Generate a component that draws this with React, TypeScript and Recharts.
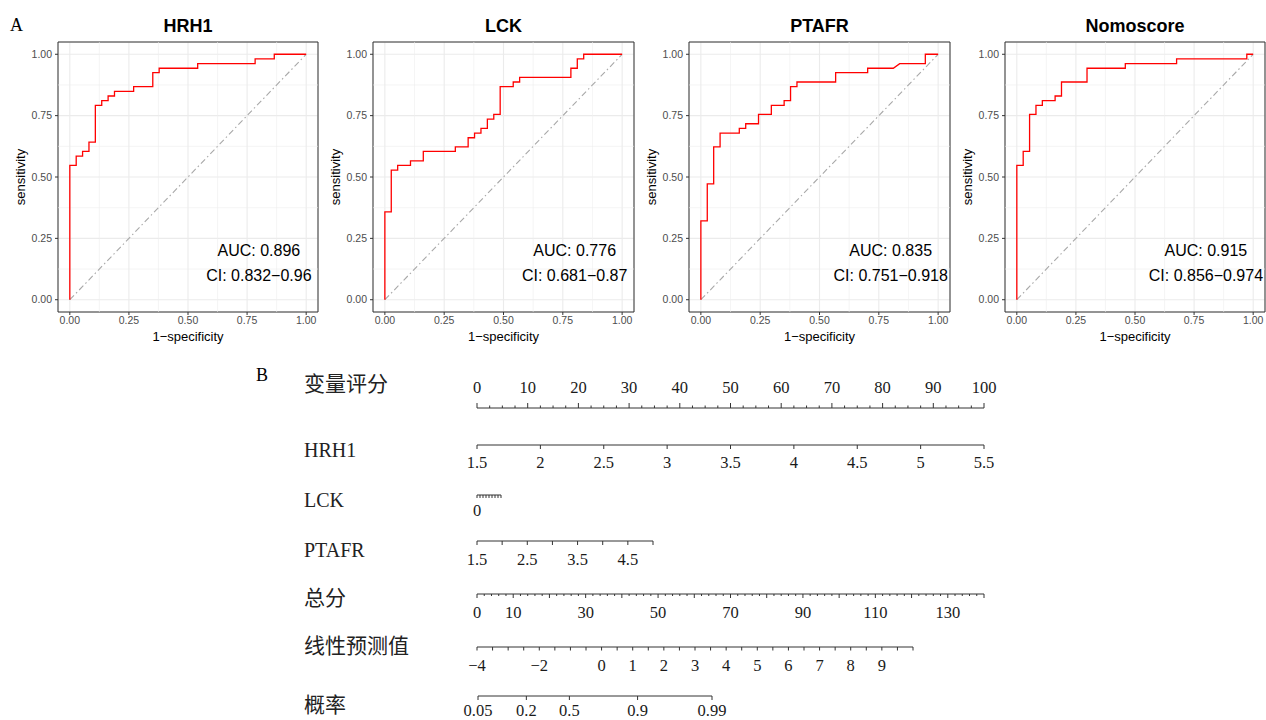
import React from 'react';
import { CartesianGrid, Line, LineChart, ReferenceArea, ReferenceDot, ReferenceLine, XAxis, YAxis } from 'recharts';

const sans = '"Liberation Sans", Arial, sans-serif';
const serif = '"Liberation Serif", "Times New Roman", serif';
const cjk = '"Liberation Serif", "Noto Sans CJK SC", serif';

// ROC curves (1-specificity, sensitivity)
const hrh1Fpr = [0, 0, 0.027, 0.027, 0.054, 0.054, 0.081, 0.081, 0.108, 0.108, 0.135, 0.135, 0.162, 0.162, 0.189, 0.189, 0.27, 0.27, 0.351, 0.351, 0.378, 0.378, 0.541, 0.541, 0.784, 0.784, 0.865, 0.865, 1];
const hrh1Tpr = [0, 0.547, 0.547, 0.585, 0.585, 0.604, 0.604, 0.642, 0.642, 0.792, 0.792, 0.811, 0.811, 0.83, 0.83, 0.849, 0.849, 0.868, 0.868, 0.925, 0.925, 0.943, 0.943, 0.962, 0.962, 0.981, 0.981, 1, 1];

const lckFpr = [0, 0, 0.027, 0.027, 0.054, 0.054, 0.108, 0.108, 0.162, 0.162, 0.297, 0.297, 0.351, 0.351, 0.378, 0.378, 0.405, 0.405, 0.432, 0.432, 0.459, 0.459, 0.486, 0.486, 0.541, 0.541, 0.568, 0.568, 0.784, 0.784, 0.811, 0.811, 0.838, 0.838, 1];
const lckTpr = [0, 0.358, 0.358, 0.528, 0.528, 0.547, 0.547, 0.566, 0.566, 0.604, 0.604, 0.623, 0.623, 0.66, 0.66, 0.679, 0.679, 0.698, 0.698, 0.736, 0.736, 0.755, 0.755, 0.868, 0.868, 0.887, 0.887, 0.906, 0.906, 0.943, 0.943, 0.981, 0.981, 1, 1];

const ptafrFpr = [0, 0, 0.027, 0.027, 0.054, 0.054, 0.081, 0.081, 0.162, 0.162, 0.189, 0.189, 0.243, 0.243, 0.297, 0.297, 0.351, 0.351, 0.378, 0.378, 0.405, 0.405, 0.568, 0.568, 0.703, 0.703, 0.811, 0.838, 0.946, 0.946, 1];
const ptafrTpr = [0, 0.321, 0.321, 0.472, 0.472, 0.623, 0.623, 0.679, 0.679, 0.698, 0.698, 0.717, 0.717, 0.755, 0.755, 0.792, 0.792, 0.811, 0.811, 0.868, 0.868, 0.887, 0.887, 0.925, 0.925, 0.943, 0.943, 0.962, 0.962, 1, 1];

const nomoFpr = [0, 0, 0.027, 0.027, 0.054, 0.054, 0.081, 0.081, 0.108, 0.108, 0.162, 0.162, 0.189, 0.189, 0.297, 0.297, 0.459, 0.459, 0.676, 0.676, 0.973, 0.973, 1];
const nomoTpr = [0, 0.547, 0.547, 0.604, 0.604, 0.755, 0.755, 0.792, 0.792, 0.811, 0.811, 0.83, 0.83, 0.887, 0.887, 0.943, 0.943, 0.962, 0.962, 0.981, 0.981, 1, 1];

const rocTitles = ['HRH1', 'LCK', 'PTAFR', 'Nomoscore'];
const rocAuc = ['AUC: 0.896', 'AUC: 0.776', 'AUC: 0.835', 'AUC: 0.915'];
const rocCi = ['CI: 0.832\u22120.96', 'CI: 0.681\u22120.87', 'CI: 0.751\u22120.918', 'CI: 0.856\u22120.974'];
const rocTicks = [0, 0.25, 0.5, 0.75, 1];
const rocMinor = [0.125, 0.375, 0.625, 0.875];

// nomogram scales
const pointLabels = [0, 10, 20, 30, 40, 50, 60, 70, 80, 90, 100];
const hrh1Labels = [1.5, 2, 2.5, 3, 3.5, 4, 4.5, 5, 5.5];
const lckTicks = [0, 1, 2, 3, 4, 5, 6, 7, 8];
const lckLabels = [0];
const ptafrLabels = [1.5, 2.5, 3.5, 4.5];
const totalLabels = [0, 10, 30, 50, 70, 90, 110, 130];
const lpLabels = [-4, -2, 0, 1, 2, 3, 4, 5, 6, 7, 8, 9];
const probLabels = [0.05, 0.2, 0.5, 0.9, 0.99];

function steps(from: number, to: number, step: number) {
  const out: number[] = [];
  for (let i = 0; from + i * step <= to + 1e-9; i++) out.push(+(from + i * step).toFixed(4));
  return out;
}

const logit = (p: number) => Math.log(p / (1 - p));
const fmt = (v: number) => String(v).replace('-', '\u2212');
const pick = (labels: number[], tr: (v: number) => number = (v) => v) => (v: number) => {
  const hit = labels.find((l) => Math.abs(tr(l) - v) < 1e-6);
  return hit === undefined ? null : fmt(hit);
};

interface RocProps {
  plotLeft: number;
  plotW: number;
  title: string;
  fpr: number[];
  tpr: number[];
  auc: string;
  ci: string;
}

function RocPanel({ plotLeft, plotW, title, fpr, tpr, auc, ci }: RocProps) {
  const data = fpr.map((f, i) => ({ fpr: f, tpr: tpr[i] }));
  const yw = 58;
  const tick = { fontSize: 10.5, fill: '#4D4D4D', fontFamily: sans };
  return (
    <>
      <div
        style={{
          position: 'absolute', left: plotLeft, top: 16, width: plotW, textAlign: 'center',
          fontFamily: sans, fontWeight: 'bold', fontSize: 18, lineHeight: '20px', color: '#000',
        }}
      >
        {title}
      </div>
      <div style={{ position: 'absolute', left: plotLeft - yw, top: 0 }}>
        <LineChart width={yw + plotW + 4} height={352} data={data} margin={{ top: 42, right: 4, bottom: 0, left: 0 }}>
          <CartesianGrid stroke="#EBEBEB" strokeWidth={1.1} />
          {rocMinor.map((m) => (
            <ReferenceLine key={'x' + m} x={m} stroke="#EFEFEF" strokeWidth={0.6} />
          ))}
          {rocMinor.map((m) => (
            <ReferenceLine key={'y' + m} y={m} stroke="#EFEFEF" strokeWidth={0.6} />
          ))}
          <XAxis
            type="number"
            dataKey="fpr"
            domain={[-0.05, 1.05]}
            ticks={rocTicks}
            interval={0}
            tickFormatter={(v) => v.toFixed(2)}
            axisLine={false}
            tickLine={{ stroke: '#333' }}
            tickSize={3}
            tickMargin={2}
            tick={tick}
            height={40}
            allowDataOverflow
            label={{ value: '1\u2212specificity', position: 'insideBottom', offset: 11, fontSize: 13, fill: '#000', fontFamily: sans }}
          />
          <YAxis
            type="number"
            domain={[-0.05, 1.05]}
            ticks={rocTicks}
            interval={0}
            tickFormatter={(v) => v.toFixed(2)}
            axisLine={false}
            tickLine={{ stroke: '#333' }}
            tickSize={3}
            tickMargin={3}
            tick={tick}
            width={yw}
            allowDataOverflow
            label={{
              value: 'sensitivity', angle: -90, position: 'insideLeft', offset: 20,
              fontSize: 13, fill: '#000', fontFamily: sans, style: { textAnchor: 'middle' },
            }}
          />
          <ReferenceLine segment={[{ x: 0, y: 0 }, { x: 1, y: 1 }]} stroke="#A8A8A8" strokeWidth={1.1} strokeDasharray="6 3 1.5 3" />
          <Line type="linear" dataKey="tpr" stroke="#FF0000" strokeWidth={1.3} dot={false} isAnimationActive={false} />
          <ReferenceDot x={0.8} y={0.2} r={1} fill="none" stroke="none"
            label={{ value: auc, position: 'center', fontSize: 16, fill: '#000', fontFamily: sans }} />
          <ReferenceDot x={0.8} y={0.1} r={1} fill="none" stroke="none"
            label={{ value: ci, position: 'center', fontSize: 16, fill: '#000', fontFamily: sans }} />
          <ReferenceArea x1={-0.05} x2={1.05} y1={-0.05} y2={1.05} fill="none" fillOpacity={0} stroke="#333" strokeWidth={1} />
        </LineChart>
      </div>
    </>
  );
}

interface NomoProps {
  y: number;
  x0: number;
  width: number;
  domain: [number, number];
  ticks: number[];
  majors: number[];
  labelAt: (v: number) => string | null;
  up?: boolean;
  majorLen: number;
  minorLen?: number;
  gap: number;
}

function NomoAxis(p: NomoProps) {
  const pad = 30;
  const axisH = 36;
  const top = p.up ? p.y - axisH : p.y - 4;
  const dir = p.up ? -1 : 1;
  const renderTick = (t: any) => {
    const v = t.payload.value;
    const major = p.majors.some((m) => Math.abs(m - v) < 1e-6);
    const len = major ? p.majorLen : p.minorLen ?? p.majorLen;
    const label = p.labelAt(v);
    return (
      <g>
        <line x1={t.x} x2={t.x} y1={t.y} y2={t.y + dir * len} stroke="#333" strokeWidth={1} />
        {label !== null && (
          <text x={t.x} y={t.y + dir * p.gap} textAnchor="middle" dominantBaseline="central"
            fontFamily={serif} fontSize={16.5} fill="#1a1a1a">
            {label}
          </text>
        )}
      </g>
    );
  };
  return (
    <div style={{ position: 'absolute', left: p.x0 - pad, top }}>
      <LineChart width={p.width + 2 * pad} height={axisH + 4} margin={{ top: 0, right: pad, bottom: 0, left: pad }}
        data={[{ v: p.domain[0] }, { v: p.domain[1] }]}>
        <XAxis
          type="number"
          dataKey="v"
          domain={p.domain}
          ticks={p.ticks}
          interval={0}
          orientation={p.up ? 'top' : 'bottom'}
          height={axisH}
          tickSize={0}
          tickMargin={0}
          tickLine={false}
          axisLine={{ stroke: '#333', strokeWidth: 1 }}
          tick={renderTick}
          allowDataOverflow
        />
        <YAxis hide domain={[0, 1]} />
      </LineChart>
    </div>
  );
}

function RowLabel({ text, cy, cn }: { text: string; cy: number; cn?: boolean }) {
  const fs = cn ? 21 : 20;
  return (
    <div style={{ position: 'absolute', left: 304, top: cy - fs / 2 - 1, fontFamily: cn ? cjk : serif, fontSize: fs, lineHeight: `${fs + 2}px`, color: '#222', whiteSpace: 'nowrap' }}>
      {text}
    </div>
  );
}

export default function App() {
  const rocs = [
    { plotLeft: 58, plotW: 260, fpr: hrh1Fpr, tpr: hrh1Tpr },
    { plotLeft: 373, plotW: 261, fpr: lckFpr, tpr: lckTpr },
    { plotLeft: 689, plotW: 261, fpr: ptafrFpr, tpr: ptafrTpr },
    { plotLeft: 1005, plotW: 260, fpr: nomoFpr, tpr: nomoTpr },
  ];
  return (
    <div style={{ position: 'absolute', left: 0, top: 0, width: 1266, height: 720, background: '#fff', overflow: 'hidden' }}>
      <div style={{ position: 'absolute', left: 10, top: 14, fontFamily: serif, fontSize: 18, lineHeight: '22px' }}>A</div>
      <div style={{ position: 'absolute', left: 256, top: 364, fontFamily: serif, fontSize: 18, lineHeight: '22px' }}>B</div>

      {rocs.map((r, i) => (
        <RocPanel key={rocTitles[i]} {...r} title={rocTitles[i]} auc={rocAuc[i]} ci={rocCi[i]} />
      ))}

      <RowLabel text="变量评分" cy={384} cn />
      <RowLabel text="HRH1" cy={450} />
      <RowLabel text="LCK" cy={500} />
      <RowLabel text="PTAFR" cy={550} />
      <RowLabel text="总分" cy={598} cn />
      <RowLabel text="线性预测值" cy={646} cn />
      <RowLabel text="概率" cy={705} cn />

      <NomoAxis y={407.5} x0={477} width={507} domain={[0, 100]} ticks={steps(0, 100, 2.5)} majors={pointLabels}
        labelAt={pick(pointLabels)} up majorLen={5} minorLen={2.5} gap={21} />
      <NomoAxis y={445} x0={477} width={507} domain={[1.5, 5.5]} ticks={hrh1Labels} majors={hrh1Labels}
        labelAt={pick(hrh1Labels)} majorLen={4} gap={17} />
      <NomoAxis y={495} x0={477} width={24} domain={[0, 8]} ticks={lckTicks} majors={lckTicks}
        labelAt={pick(lckLabels)} majorLen={3} gap={15} />
      <NomoAxis y={541} x0={477} width={176} domain={[1.5, 5]} ticks={steps(1.5, 5, 0.5)} majors={steps(1.5, 5, 0.5)}
        labelAt={pick(ptafrLabels)} majorLen={4} gap={18} />
      <NomoAxis y={594} x0={477} width={507} domain={[0, 140]} ticks={steps(0, 140, 2)} majors={steps(0, 140, 10)}
        labelAt={pick(totalLabels)} majorLen={4} minorLen={2} gap={18} />
      <NomoAxis y={646.5} x0={477} width={436} domain={[-4, 10]} ticks={steps(-4, 10, 0.5)} majors={steps(-4, 10, 0.5)}
        labelAt={pick(lpLabels)} majorLen={3.5} gap={18} />
      <NomoAxis y={696} x0={478} width={234} domain={[logit(0.05), logit(0.99)]} ticks={probLabels.map(logit)}
        majors={probLabels.map(logit)} labelAt={pick(probLabels, logit)} majorLen={4} gap={14} />
    </div>
  );
}
